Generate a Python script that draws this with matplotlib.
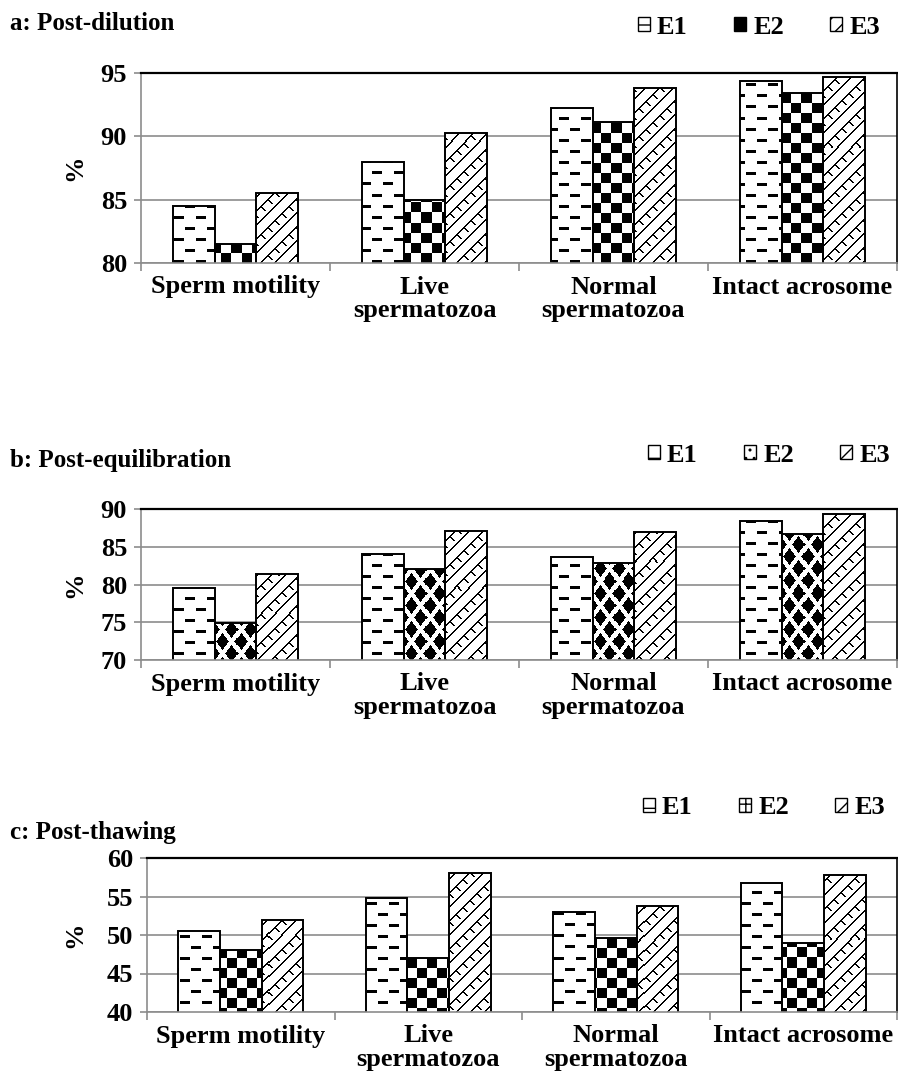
import numpy as np
import matplotlib
matplotlib.use('Agg')
import matplotlib.pyplot as plt
from matplotlib.patches import Patch

###############################################################################
# Data
###############################################################################
categorias = ['Sperm motility', 'Live\nspermatozoa', 'Normal\nspermatozoa', 'Intact acrosome']
series = ['E1', 'E2', 'E3']

dil_E1 = [84.5, 88.0, 92.2, 94.4]
dil_E2 = [81.5, 85.0, 91.1, 93.4]
dil_E3 = [85.5, 90.3, 93.8, 94.7]

equ_E1 = [79.6, 84.0, 83.6, 88.4]
equ_E2 = [74.9, 82.0, 82.9, 86.7]
equ_E3 = [81.4, 87.1, 87.0, 89.3]

tha_E1 = [50.5, 54.8, 53.0, 56.7]
tha_E2 = [48.0, 47.0, 49.6, 49.0]
tha_E3 = [52.0, 58.0, 53.8, 57.8]

titulos = ['a: Post-dilution', 'b: Post-equilibration', 'c: Post-thawing']
yticks_a = [80, 85, 90, 95]
yticks_b = [70, 75, 80, 85, 90]
yticks_c = [40, 45, 50, 55, 60]

###############################################################################
W, H = 898, 1087
FS = 19
plt.rcParams['font.family'] = 'Liberation Serif'
plt.rcParams['font.weight'] = 'bold'
plt.rcParams['font.size'] = FS
GRAY = '#8c8c8c'

fig = plt.figure(figsize=(W / 100, H / 100), dpi=100)


def pattern(kind, w, h):
    yy, xx = np.mgrid[0:h, 0:w]
    if kind == 'dash':
        row = yy // 11
        black = (yy % 11 < 3) & (((xx + (row % 2) * 11) % 22) < 10)
    elif kind == 'checker':
        black = ((xx // 10 + yy // 10) % 2) == 0
    elif kind == 'diamond':
        dA = np.abs((xx % 18) - 9) / 9 + np.abs((yy % 24) - 12) / 12
        dB = np.abs(((xx + 9) % 18) - 9) / 9 + np.abs(((yy + 12) % 24) - 12) / 12
        black = np.minimum(dA, dB) < 0.72
    else:  # diagonal
        black = ((xx + yy) % 14 < 1.6) | (((xx - yy) % 14 < 1.4) & (((xx + yy) % 28) < 10))
    return np.where(black, 0.0, 1.0)


def painel(rect, dados, yticks, titulo, e2kind, leg_y, tit_y, leg_right, e2_leg):
    left, top, right, bottom = rect
    ax = fig.add_axes([left / W, 1 - bottom / H, (right - left) / W, (bottom - top) / H])
    pw, ph = right - left, bottom - top
    kinds = ['dash', e2kind, 'diagonal']
    x = np.arange(len(categorias))
    w = 0.222
    for i, vals in enumerate(dados):
        bars = ax.bar(x + (i - 1) * w, vals, w, facecolor='none', edgecolor='black',
                      linewidth=1.4, zorder=2)
        img = pattern(kinds[i], pw, ph)
        for b in bars:
            im = ax.imshow(img, cmap='gray', vmin=0, vmax=1, extent=(0, 1, 0, 1),
                           transform=ax.transAxes, aspect='auto', interpolation='nearest',
                           zorder=1)
            im.set_clip_path(b)
    ax.set_xlim(-0.5, len(categorias) - 0.5)
    ax.set_ylim(yticks[0], yticks[-1])
    ax.set_yticks(yticks)
    ax.set_xticks(np.arange(-0.5, len(categorias), 1))
    ax.set_xticklabels([])
    ax.set_xticks(x, categorias, minor=True)
    ax.tick_params(axis='x', which='minor', length=0, pad=9)
    ax.tick_params(axis='x', which='major', length=6, color=GRAY, width=1.2)
    ax.tick_params(axis='y', length=5, color=GRAY, width=1.2, pad=5)
    for lbl in ax.get_xticklabels(minor=True):
        lbl.set_linespacing(1.05)
    ax.grid(axis='y', color=GRAY, linewidth=1.2, zorder=0)
    ax.set_axisbelow(True)
    ax.spines['left'].set_color(GRAY)
    ax.spines['bottom'].set_color(GRAY)
    ax.spines['left'].set_linewidth(1.2)
    ax.spines['bottom'].set_linewidth(1.2)
    ax.spines['top'].set_linewidth(1.6)
    ax.spines['right'].set_linewidth(1.2)
    ax.set_facecolor('white')

    fig.text(75 / W, 1 - (top + bottom) / 2 / H, '%', rotation=90, ha='center', va='center')
    fig.text(10 / W, 1 - tit_y / H, titulo, ha='left', va='center', fontsize=FS - 1)

    handles = [Patch(facecolor='white', edgecolor='black', hatch='-'),
               Patch(facecolor=e2_leg[0], edgecolor='black', hatch=e2_leg[1]),
               Patch(facecolor='white', edgecolor='black', hatch='//')]
    fig.legend(handles, series, ncol=3, loc='center right', frameon=False,
               bbox_to_anchor=(leg_right / W, 1 - leg_y / H), handlelength=0.45,
               handleheight=0.45, handletextpad=0.28, columnspacing=1.75,
               borderpad=0, borderaxespad=0, fontsize=FS)
    return ax


painel((141, 73, 897, 263), [dil_E1, dil_E2, dil_E3], yticks_a, titulos[0],
       'checker', 27, 23, 880, ('black', ''))
painel((141, 509, 897, 660), [equ_E1, equ_E2, equ_E3], yticks_b, titulos[1],
       'diamond', 455, 460, 890, ('white', '..'))
painel((147, 858, 897, 1012), [tha_E1, tha_E2, tha_E3], yticks_c, titulos[2],
       'checker', 808, 832, 885, ('white', '++'))

fig.savefig('out.png', dpi=100, facecolor='white')
